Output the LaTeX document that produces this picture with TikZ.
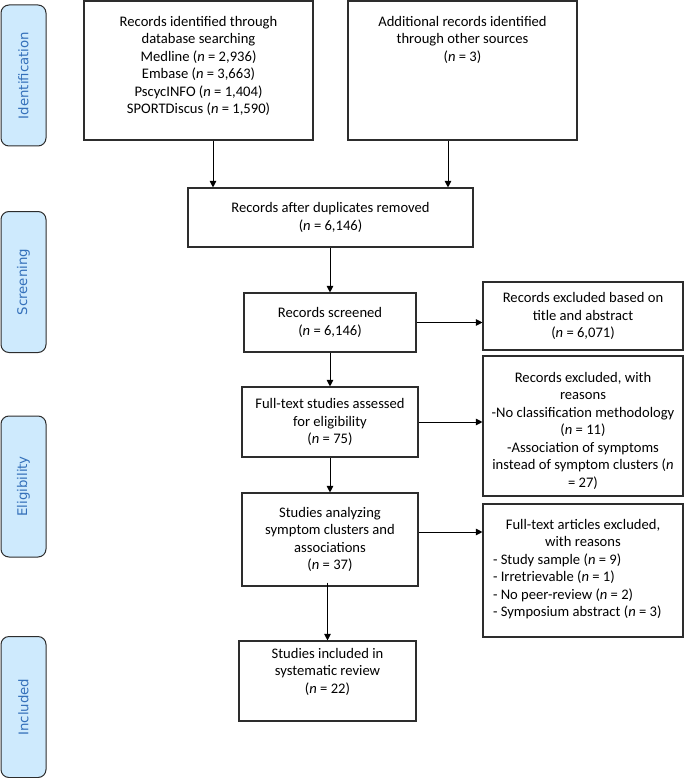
\documentclass[tikz,border=0pt]{standalone}
\usepackage{fontspec}
\usepackage{graphicx}
\setmainfont{Carlito}
\newfontfamily\sidefont{DejaVu Sans}
\usetikzlibrary{arrows.meta}
\definecolor{sidefill}{RGB}{206,234,253}
\definecolor{sidetext}{RGB}{52,112,186}
\definecolor{edge}{RGB}{45,45,45}
\tikzset{
  box/.style={draw=edge, line width=1.1pt, fill=white, inner sep=0pt, align=center,
              font=\fontsize{14.6}{17.5}\selectfont},
  side/.style={draw=edge, line width=1pt, fill=sidefill, rounded corners=8pt,
               minimum width=45, minimum height=141, inner sep=0pt,
               text=sidetext, font=\sidefont\fontsize{13.3}{16}\selectfont},
  arr/.style={draw=black, line width=1pt, -{Triangle[length=6.5pt,width=6.5pt]}}
}
\newcommand{\nn}{\textit{n}}
\begin{document}
\begin{tikzpicture}[x=1pt,y=-1pt]
\useasboundingbox (0,0) rectangle (685,778);

% side labels
\node[side] (s1) at (23.5,75.5) {\rotatebox{90}{Identification}};
\node[side] (s2) at (23.5,282) {\rotatebox{90}{Screening}};
\node[side] (s3) at (23.5,486.5) {\rotatebox{90}{Eligibility}};
\node[side] (s4) at (23.5,707) {\rotatebox{90}{Included}};

% boxes
\node[box, minimum width=229, minimum height=139] (A) at (198.5,70.5)
  {\parbox[c][139pt][t]{225pt}{\centering\vspace*{15pt}Records identified through\\database searching\\Medline (\nn{} = 2,936)\\Embase (\nn{} = 3,663)\\PscycINFO (\nn{} = 1,404)\\SPORTDiscus (\nn{} = 1,590)}};
\node[box, minimum width=229, minimum height=139] (B) at (462.5,70.5)
  {\parbox[c][139pt][t]{225pt}{\centering\vspace*{15pt}Additional records identified\\through other sources\\(\nn{} = 3)}};
\node[box, minimum width=285, minimum height=59] (C) at (330.5,217.5)
  {Records after duplicates removed\\(\nn{} = 6,146)};
\node[box, minimum width=172, minimum height=59] (D) at (330,322.5)
  {Records screened\\(\nn{} = 6,146)};
\node[box, minimum width=200, minimum height=68] (E) at (583,316)
  {Records excluded based on\\title and abstract\\(\nn{} = 6,071)};
\node[box, minimum width=176, minimum height=70] (F) at (330,422)
  {Full-text studies assessed\\for eligibility\\(\nn{} = 75)};
\node[box, minimum width=200, minimum height=140] (G) at (583,426)
  {\parbox[c][140pt][t]{196pt}{\centering\vspace*{16pt}Records excluded, with\\reasons\\-No classification methodology\\(\nn{} = 11)\\-Association of symptoms\\instead of symptom clusters (\nn\\= 27)}};
\node[box, minimum width=200, minimum height=133] (I) at (583,570.5)
  {\parbox[c][133pt][t]{196pt}{\vspace*{15pt}\centering Full-text articles excluded,\\with reasons\par\raggedright\leftskip=8pt
   - Study sample (\nn{} = 9)\\- Irretrievable (\nn{} = 1)\\- No peer-review (\nn{} = 2)\\- Symposium abstract (\nn{} = 3)}};
\node[box, minimum width=176, minimum height=93] (H) at (330,539.5)
  {Studies analyzing\\symptom clusters and\\associations\\(\nn{} = 37)};
\node[box, minimum width=177, minimum height=80] (J) at (327.5,681)
  {Studies included in\\systematic review\\(\nn{} = 22)\\[3pt]};

% connectors
\coordinate (a1) at ([xshift=14.5]A.south);
\coordinate (b1) at ([xshift=-14.5]B.south);
\draw[arr] (a1) -- (a1 |- C.north);
\draw[arr] (b1) -- (b1 |- C.north);
\draw[arr] (C.south -| D.north) -- (D.north);
\draw[arr] (D.east) -- (E.west |- D.east);
\draw[arr] (D.south) -- (F.north);
\draw[arr] (F.east) -- (G.west |- F.east);
\draw[arr] (F.south) -- (H.north);
\coordinate (h1) at ([yshift=7.5]H.east);
\draw[arr] (h1) -- (I.west |- h1);
\coordinate (h2) at ([yshift=4]H.south -| J.north);
\draw[arr] (h2) -- (J.north);
\end{tikzpicture}
\end{document}
